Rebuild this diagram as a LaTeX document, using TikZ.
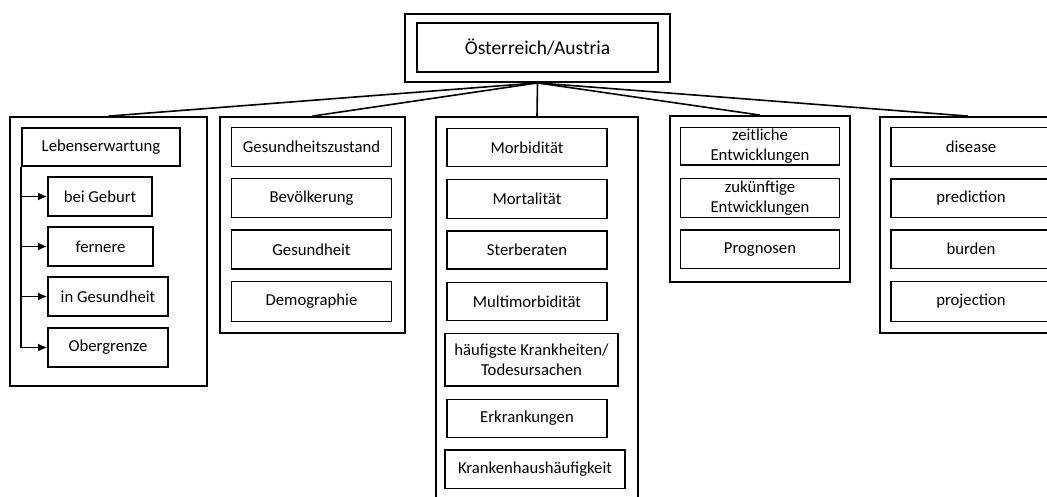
\documentclass[tikz,border=0pt]{standalone}
\usepackage{fontspec}
\setmainfont{Carlito}
\usetikzlibrary{arrows.meta}
\begin{document}
\begin{tikzpicture}[x=1pt,y=-1pt,
  frame/.style={draw, line width=1.8pt, inner sep=0pt},
  item/.style={draw, line width=1.7pt, inner sep=0pt, align=center,
    font=\fontsize{16.7}{20.5}\selectfont},
  link/.style={line width=1.6pt},
  arr/.style={line width=1.6pt, -{Latex[length=9pt,width=8pt]}}]
\useasboundingbox (0,0) rectangle (1047,496);
\begin{scope}
\clip (0,0) rectangle (1047,496);
% top
\node[frame, minimum width=265pt, minimum height=68pt] (top) at (537.5,48) {};
\node[item, minimum width=241pt, minimum height=49pt, font=\fontsize{19.5}{23}\selectfont] (topin) at (537.5,47.5) {Österreich/Austria};
% group frames
\node[frame, minimum width=197pt, minimum height=269pt] (g1) at (108.5,251.5) {};
\node[frame, minimum width=185pt, minimum height=216pt] (g2) at (312.5,225) {};
\node[frame, minimum width=202pt, minimum height=400pt] (g3) at (537,317) {};
\node[frame, minimum width=180pt, minimum height=166pt] (g4) at (760,199) {};
\node[frame, minimum width=176pt, minimum height=216pt] (g5) at (968,225) {};
% connectors
\draw[link] (top.south) -- (g1.north);
\draw[link] (top.south) -- (g2.north);
\draw[link] (top.south) -- (g3.north);
\draw[link] (top.south) -- (g4.north);
\draw[link] (top.south) -- (g5.north);
% group 1
\node[item, minimum width=158pt, minimum height=38pt] (leb) at (101,147) {Lebenserwartung};
\node[item, minimum width=104pt, minimum height=39pt] (bg) at (100,196.5) {bei Geburt};
\node[item, minimum width=105pt, minimum height=39pt] (fe) at (100.5,246.5) {fernere};
\node[item, minimum width=120pt, minimum height=39pt] (ig) at (108,296.5) {in Gesundheit};
\node[item, minimum width=120pt, minimum height=39pt] (og) at (108,347.5) {Obergrenze};
\draw[link] (leb.south west) -- (leb.south west |- og.west);
\draw[arr] (leb.south west |- bg.west) -- (bg.west);
\draw[arr] (leb.south west |- fe.west) -- (fe.west);
\draw[arr] (leb.south west |- ig.west) -- (ig.west);
\draw[arr] (leb.south west |- og.west) -- (og.west);
% group 2
\node[item, minimum width=160pt, minimum height=39pt] (gz) at (311.5,147) {Gesundheitszustand};
\node[item, minimum width=160pt, minimum height=39pt] (bv) at (311.5,198) {Bevölkerung};
\node[item, minimum width=160pt, minimum height=39pt] (gh) at (311.5,249.5) {Gesundheit};
\node[item, minimum width=160pt, minimum height=40pt] (dg) at (311.5,301.5) {Demographie};
% group 3
\node[item, minimum width=160pt, minimum height=38pt] (mb) at (527,147.5) {Morbidität};
\node[item, minimum width=160pt, minimum height=39pt] (mt) at (527,199) {Mortalität};
\node[item, minimum width=160pt, minimum height=38.5pt] (sb) at (527,250) {Sterberaten};
\node[item, minimum width=160pt, minimum height=38pt] (mm) at (527,301.5) {Multimorbidität};
\node[item, minimum width=173pt, minimum height=52.5pt] (hk) at (531.5,359.75) {häufigste Krankheiten/\\Todesursachen};
\node[item, minimum width=160pt, minimum height=38pt] (ek) at (527,418.5) {Erkrankungen};
\node[item, minimum width=180pt, minimum height=38.5pt] (kh) at (535,469.25) {Krankenhaushäufigkeit};
% group 4
\node[item, minimum width=159pt, minimum height=37.5pt] (ze) at (760,146.25) {zeitliche\\Entwicklungen};
\node[item, minimum width=159pt, minimum height=39pt] (zu) at (760,198) {zukünftige\\Entwicklungen};
\node[item, minimum width=159pt, minimum height=38.5pt] (pg) at (760,249.25) {Prognosen};
% group 5
\node[item, minimum width=160pt, minimum height=39pt] (ds) at (971,147) {disease};
\node[item, minimum width=160pt, minimum height=38.5pt] (pd) at (971,198.25) {prediction};
\node[item, minimum width=160pt, minimum height=38.5pt] (bd) at (971,249.25) {burden};
\node[item, minimum width=160pt, minimum height=40pt] (pj) at (971,301.5) {projection};
\end{scope}
\end{tikzpicture}
\end{document}
